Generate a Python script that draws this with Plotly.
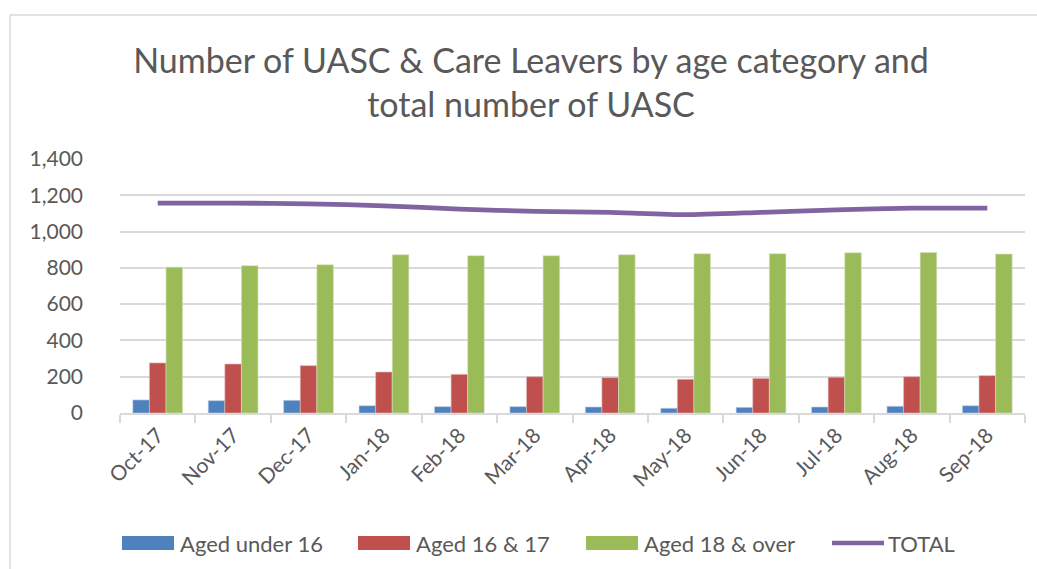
import plotly.graph_objects as go

months = ["Oct-17", "Nov-17", "Dec-17", "Jan-18", "Feb-18", "Mar-18",
          "Apr-18", "May-18", "Jun-18", "Jul-18", "Aug-18", "Sep-18"]
under16 = [72, 68, 70, 40, 35, 35, 33, 26, 31, 33, 37, 40]
aged16_17 = [276, 270, 261, 226, 213, 200, 195, 186, 191, 197, 200, 206]
aged18_over = [804, 812, 817, 872, 867, 867, 872, 878, 878, 883, 885, 876]
total = [1157, 1157, 1153, 1142, 1124, 1111, 1106, 1093, 1106, 1120, 1129, 1129]

series_names = ["Aged under 16", "Aged 16 & 17", "Aged 18 & over", "TOTAL"]
series_colors = ["#4F81BD", "#C0504D", "#9BBB59", "#8064A2"]
edge_colors = ["#BFD0E6", "#E6BCBB", "#D7E4BD"]

W, H = 1037, 569
ML, MR, MT, MB = 120, 12, 159, 156
FONT = "Lato"
GREY = "#595959"

fig = go.Figure()
for name, vals, col, edge in zip(series_names[:3], [under16, aged16_17, aged18_over],
                                 series_colors[:3], edge_colors):
    fig.add_trace(go.Bar(x=months, y=vals, name=name, showlegend=False,
                         marker=dict(color=col, line=dict(width=0.6, color=edge))))
fig.add_trace(go.Scatter(x=months, y=total, name=series_names[3], mode="lines", showlegend=False,
                         line=dict(color=series_colors[3], width=4.8, shape="spline", smoothing=0.6)))

pw = W - ML - MR
ph = H - MT - MB
def px2x(p):
    return (p - ML) / pw
def py2y(p):
    return (H - MB - p) / ph

shapes = [
    dict(type="line", xref="paper", yref="paper", x0=px2x(10), x1=px2x(W + 5),
         y0=py2y(15), y1=py2y(15), line=dict(color="#D9D9D9", width=1.5)),
    dict(type="line", xref="paper", yref="paper", x0=px2x(10), x1=px2x(10),
         y0=py2y(15), y1=py2y(H + 5), line=dict(color="#D9D9D9", width=1.5)),
]
annotations = []

# custom legend (Excel-style wide swatches)
legend_starts = [122, 358, 586, 830]
ly = 543
for i, (name, col, x0) in enumerate(zip(series_names, series_colors, legend_starts)):
    if i < 3:
        shapes.append(dict(type="rect", xref="paper", yref="paper",
                           x0=px2x(x0), x1=px2x(x0 + 52), y0=py2y(ly - 7), y1=py2y(ly + 7),
                           fillcolor=col, line=dict(width=0)))
    else:
        shapes.append(dict(type="line", xref="paper", yref="paper",
                           x0=px2x(x0 + 2), x1=px2x(x0 + 54), y0=py2y(ly), y1=py2y(ly),
                           line=dict(color=col, width=4.5)))
    annotations.append(dict(text=name, xref="paper", yref="paper", x=px2x(x0 + 56), y=py2y(ly),
                            xanchor="left", yanchor="middle", showarrow=False,
                            font=dict(family=FONT, size=22, color=GREY)))

fig.update_layout(
    width=W, height=H,
    margin=dict(l=ML, r=MR, t=MT, b=MB, autoexpand=False),
    paper_bgcolor="white", plot_bgcolor="white",
    font=dict(family=FONT, color=GREY, size=20),
    title=dict(text="Number of UASC & Care Leavers by age category and<br>total number of UASC",
               x=531 / W, xanchor="center", xref="container",
               y=1 - 73 / H, yanchor="middle", yref="container",
               font=dict(family=FONT, size=34, color=GREY)),
    barmode="group", bargap=0.34, bargroupgap=0,
    showlegend=False,
    xaxis=dict(type="category", showline=True, linecolor="#D9D9D9", linewidth=1.5,
               ticks="outside", tickson="boundaries", ticklen=8, tickcolor="#D9D9D9",
               tickwidth=1.5, tickangle=-45, showgrid=False, automargin=False,
               tickfont=dict(family=FONT, size=21, color=GREY)),
    yaxis=dict(range=[0, 1400], dtick=200, tickformat=",", showgrid=True,
               gridcolor="#D9D9D9", gridwidth=1.5, zeroline=False, showline=False,
               ticklabelstandoff=36, automargin=False,
               tickfont=dict(family=FONT, size=21, color=GREY)),
    shapes=shapes,
    annotations=annotations,
)

fig.write_html("out.html", config={"displayModeBar": False},
               post_script="document.body.style.margin='0';")
